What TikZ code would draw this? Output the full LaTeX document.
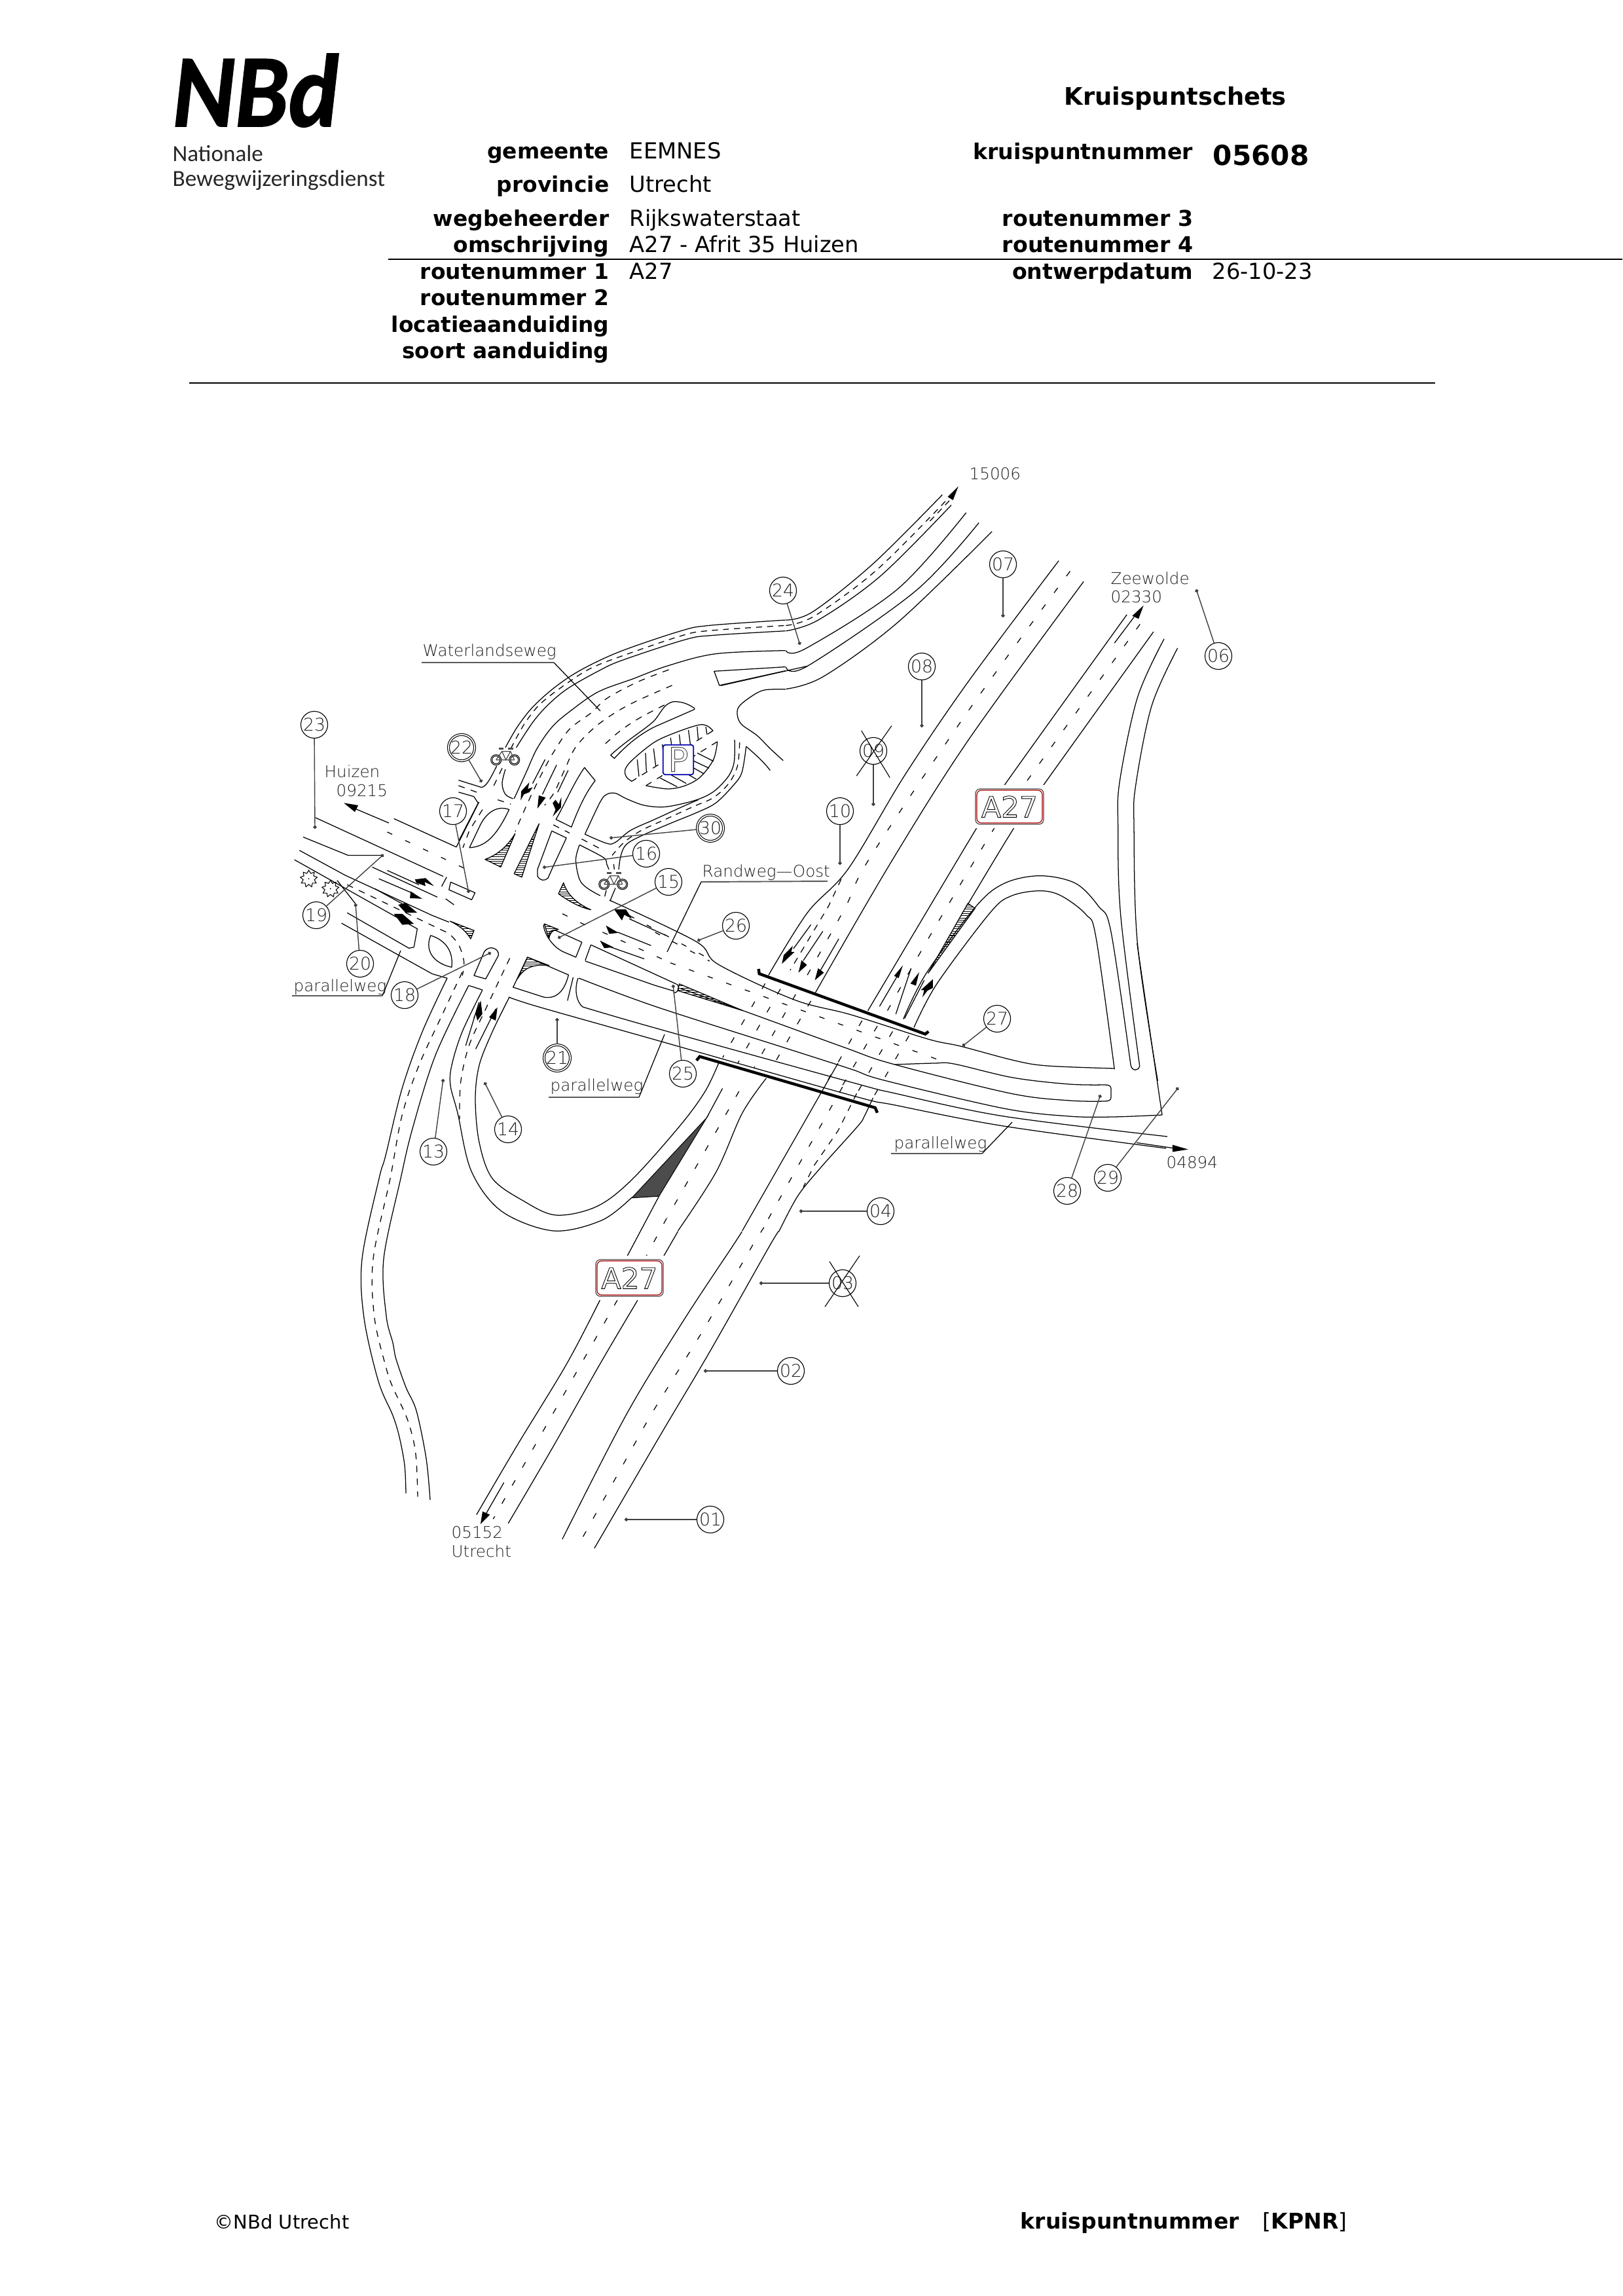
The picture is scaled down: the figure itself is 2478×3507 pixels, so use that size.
\documentclass[tikz,border=0pt]{standalone}
\usepackage{fontspec}
\usetikzlibrary{arrows.meta,shapes.geometric,patterns}
\setmainfont{DejaVu Sans}
\newfontfamily\cadf{DejaVu Sans ExtraLight}
\newfontfamily\logof{Carlito}
\pgfdeclarepatternformonly{finehatch}{\pgfqpoint{-1pt}{-1pt}}{\pgfqpoint{2pt}{2pt}}{\pgfqpoint{0.95pt}{0.95pt}}{\pgfsetlinewidth{0.3pt}\pgfpathmoveto{\pgfqpoint{-1pt}{0pt}}\pgfpathlineto{\pgfqpoint{2pt}{0pt}}\pgfusepath{stroke}}
\newcommand\outltext[1]{\special{pdf:code 1 Tr 0.25 w}#1\special{pdf:code 0 Tr}}
\newcommand\heavytext[1]{\special{pdf:code 2 Tr 0.5 w}#1\special{pdf:code 0 Tr}}
\newcommand\rdp[2][]{\draw[rd,#1] plot[smooth,tension=.55] coordinates {#2};}
\tikzset{
 zone1/.style={shift={(4cm,-10cm)},x=0.005102cm,y=-0.005102cm},
 zone2/.style={shift={(11cm,-6.5cm)},x=0.00542cm,y=-0.006378cm},
 zone3/.style={shift={(6cm,-14cm)},x=0.008292cm,y=-0.006378cm},
 zone4/.style={shift={(6cm,-19cm)},x=0.005102cm,y=-0.003317cm},
 zone6/.style={shift={(7cm,-8.8cm)},x=0.003333cm,y=-0.003333cm},
 zone7/.style={shift={(10cm,-13.8cm)},x=0.003333cm,y=-0.003333cm},
 zone8/.style={shift={(13cm,-14cm)},x=0.003333cm,y=-0.003333cm},
 rd/.style={line width=0.36pt,black,line join=round},
 hwd/.style={rd,dash pattern=on 2.7pt off 6.3pt},
 lcd/.style={rd,dash pattern=on 2.8pt off 2.8pt},
 cyd/.style={rd,dash pattern=on 2.6pt off 2.2pt},
 spd/.style={rd,dash pattern=on 2.4pt off 6.2pt},
 hatchw/.style={rd,pattern=finehatch},
 darkw/.style={line width=0.3pt,fill=black!70},
 lab/.style={inner sep=0pt,anchor=base east,font=\fontsize{9.35}{11}\selectfont\bfseries},
 val/.style={inner sep=0pt,anchor=base west,font=\fontsize{9.6}{11}\selectfont},
 cnum/.style={circle,draw=black,line width=0.32pt,minimum size=0.41cm,inner sep=0pt,text=black!88,font=\cadf\fontsize{7.6}{8}\selectfont},
 cdbl/.style={cnum,double,double distance=0.5pt,minimum size=0.40cm},
 leader/.style={line width=0.4pt,black!75,-{Circle[length=1.5pt]}},
 xline/.style={line width=0.32pt,black},
 cadt/.style={inner sep=0pt,anchor=base west,text=black!88,font=\cadf\fontsize{7}{8}\selectfont},
 uline/.style={line width=0.55pt,black!65},
 lline/.style={line width=0.36pt,black},
 bridgebar/.style={line width=1.25pt,black,line join=miter},
 bikepic/.pic={
  \draw[line width=0.3pt,black] (-14,4) circle (8) (-14,4) circle (6) (14,4) circle (8) (14,4) circle (6);
  \draw[line width=0.35pt,black!70] (-14,4)--(-5,-9)--(8,-9)--(14,4) (-5,-9)--(1,4)--(8,-9) (-14,4)--(1,4)--(14,4);
  \draw[line width=1pt,black!70] (-10,-13)--(-3,-13) (4,-13)--(12,-13);
 },
}
\begin{document}
\begin{tikzpicture}[x=0.01cm,y=-0.01cm]
\useasboundingbox (0,0) rectangle (2478,3507);
\fill[white] (0,0) rectangle (2478,3507);

% ---------- header ----------
\node[inner sep=0pt,anchor=base west,xscale=0.92] (logo) at (263,193) {\logof\fontsize{45}{48}\selectfont\bfseries\itshape\heavytext{NBd}};
\node[inner sep=0pt,anchor=base west,text=black!85] (logoa) at (263,247) {\logof\fontsize{10}{12}\selectfont Nationale};
\node[inner sep=0pt,anchor=base west,text=black!85] (logob) at (263,285) {\logof\fontsize{10}{12}\selectfont Bewegwijzeringsdienst};
\node[lab] (l1) at (931,243) {gemeente};
\node[lab] (l2) at (931,294) {provincie};
\node[lab] (l3) at (931,346) {wegbeheerder};
\node[lab] (l4) at (931,386) {omschrijving};
\node[lab] (l5) at (931,427) {routenummer 1};
\node[lab] (l6) at (931,467) {routenummer 2};
\node[lab] (l7) at (931,508) {locatieaanduiding};
\node[lab] (l8) at (931,548) {soort aanduiding};
\node[val] (v1) at (961,243) {EEMNES};
\node[val] (v2) at (961,294) {Utrecht};
\node[val] (v3) at (961,346) {Rijkswaterstaat};
\node[val] (v4) at (961,386) {A27 - Afrit 35 Huizen};
\node[val] (v5) at (961,427) {A27};
\node[inner sep=0pt,anchor=base west,font=\fontsize{10.5}{12}\selectfont\bfseries] (title) at (1625,161) {Kruispuntschets};
\node[lab,font=\fontsize{9.45}{11}\selectfont\bfseries] (r1) at (1823,244) {kruispuntnummer};
\node[lab,font=\fontsize{9.45}{11}\selectfont\bfseries] (r3) at (1823,346) {routenummer 3};
\node[lab,font=\fontsize{9.45}{11}\selectfont\bfseries] (r4) at (1823,386) {routenummer 4};
\node[lab,font=\fontsize{9.45}{11}\selectfont\bfseries] (r5) at (1823,427) {ontwerpdatum};
\node[inner sep=0pt,anchor=base west,font=\fontsize{12}{14}\selectfont\bfseries] (knr) at (1852,253) {05608};
\node[val] (rv) at (1851,427) {26-10-23};
\draw[line width=0.55pt] (593,396) -- (2478,396);
\draw[line width=0.55pt] (289,585) -- (2192,585);
\node[val,font=\fontsize{8.25}{10}\selectfont] (f1) at (327,3404) {©NBd Utrecht};
\node[inner sep=0pt,anchor=base west,font=\fontsize{9.4}{11}\selectfont\bfseries] (f2) at (1558,3404) {kruispuntnummer};
\node[inner sep=0pt,anchor=base west,font=\fontsize{9.4}{11}\selectfont] (f3) at (1928,3404) {[\textbf{KPNR}]};

% ---------- north part, zone 6 ----------
\begin{scope}[zone6]
\rdp{(215,785) (270,690) (340,600) (440,510) (560,430) (740,345) (1020,250) (1150,225) (1500,200)}
\rdp[cyd]{(240,790) (300,680) (370,590) (470,510) (600,425) (750,365) (1030,270) (1160,248) (1500,225)}
\rdp{(265,785) (340,670) (410,590) (500,515) (640,435) (750,385) (1040,290) (1170,270) (1500,250)}
\rdp{(255,1020) (310,900) (360,790) (430,690) (510,620) (640,530) (800,470) (960,410) (1180,355) (1500,340)}
\rdp[lcd]{(965,428) (820,485) (680,560) (610,625) (510,700) (440,800) (395,880) (340,990) (290,1100) (260,1170)}
\rdp[lcd]{(980,500) (780,590) (640,680) (540,780) (490,880) (440,990) (395,1050)}
\rdp[lcd]{(945,590) (830,650) (740,710) (655,785)}
\draw[rd] (397,840)--(340,950) (450,865)--(385,1000) (503,890)--(455,990);
% sliver island
\draw[rd] (698,820) .. controls (780,745) and (860,700) .. (900,660) .. controls (930,625) and (940,585) .. (985,575) .. controls (1030,572) and (1060,590) .. (1083,605) -- (1083,610) -- (900,690) .. controls (830,725) and (770,775) .. (715,835) -- cycle;
% parking
\rdp{(795,940) (770,920) (765,885) (800,840) (900,760) (1000,715) (1100,682) (1140,685) (1168,708)}
\draw[lcd] (1168,708)--(795,940) (860,960)--(1188,758);
\rdp{(1188,758) (1170,840) (1110,920) (1040,960) (960,975) (860,960)}
\draw[rd] (820,840)--(828,918) (858,810)--(862,895) (895,790)--(905,870) (935,770)--(945,850) (973,740)--(985,830) (1013,725)--(1022,805) (1055,705)--(1065,780) (1095,690)--(1100,750) (1135,690)--(1140,725);
\draw[rd] (1095,810)--(1170,848) (1075,845)--(1150,880) (1045,860)--(1125,905) (1005,880)--(1090,930) (965,905)--(1045,950) (925,925)--(1003,965);
% blocks
\draw[rd] (578,877)--(627,937) .. controls (590,985) and (560,1040) .. (518,1150) -- (447,1115) .. controls (490,1040) and (530,945) .. cycle;
\draw[rd] (428,1168)--(495,1200)--(430,1340)--(410,1385) .. controls (395,1398) and (375,1398) .. (362,1375)--(362,1345)--cycle;
\draw[lcd] (435,1140)--(510,1178);
% ring
\rdp{(580,1183) (650,1035) (680,1000) (720,995) (770,1020) (850,1050) (940,1058) (1040,1040) (1120,1015) (1180,980) (1240,915) (1265,850) (1267,750)}
\rdp[cyd]{(1290,762) (1280,870) (1240,950) (1170,1015) (1080,1055) (960,1110) (840,1165) (760,1220) (705,1280)}
\rdp{(1320,780) (1300,900) (1260,960) (1180,1040) (1090,1085) (980,1130) (840,1190) (770,1230) (745,1280) (735,1345)}
\rdp{(580,1183) (680,1225) (720,1220) (790,1165) (900,1115) (1020,1060) (1100,1025)}
\rdp{(555,1232) (665,1290) (680,1320) (690,1345)}
\draw[lcd] (565,1205)--(670,1260);
\rdp{(555,1232) (538,1300) (555,1390) (590,1430) (650,1465)}
\draw[lcd] (678,1440)--(668,1480) (712,1320)--(715,1345);
\draw[rd] (720,1430)--(695,1490);
\rdp{(1500,518) (1400,522) (1330,560) (1285,600) (1280,640) (1300,680) (1370,730) (1430,790) (1490,845)}
\draw[rd] (1320,780) .. controls (1360,815) and (1400,850) .. (1430,890);
\draw[rd] (1500,415)--(1173,435)--(1197,500)--(1500,433);
% side road
\draw[rd] (0,935)--(105,968) (105,968) .. controls (125,965) and (140,940) .. (175,870);
\draw[rd] (0,990)--(70,1010)--(90,1040)--(0,1215);
\draw[lcd] (0,960)--(110,1000) (180,1025)--(240,1045) (200,880)--(150,985);
\rdp{(215,885) (200,950) (215,1000) (250,1020)}
\draw[rd] (232,1070) .. controls (180,1050) and (130,1080) .. (100,1140) -- (50,1245) .. controls (120,1240) and (170,1200) .. cycle;
\draw[lcd] (110,1070)--(50,1165)--(20,1245);
% arrows
\fill (285,1028)--(288,985)--(325,945)--(318,975)--(340,968)--(325,990)--(300,1000)--cycle;
\fill (362,1065)--(368,1005)--(400,1015)--cycle;
\fill (432,1102)--(445,1070)--(432,1040)--(445,1025)--(460,1045)--(472,1012)--(470,1060)--cycle;
\end{scope}

% ---------- left + south arms, zone 1 ----------
\begin{scope}[zone1]
\draw[rd] (160,487)--(543,663);
\draw[rd] (395,490)--(582,575)--(650,440);
\draw[rd] (123,545)--(258,600)--(360,600);
\draw[rd] (330,635)--(525,725);
\draw[rd] (112,585)--(250,660)--(510,780)--(560,800);
\draw[rd] (97,613)--(465,820)--(455,875)--(440,878)--(255,772);
\draw[rd] (225,675)--(280,745);
\draw[rd] (238,803)--(420,905)--(510,955)--(555,968);
\draw[spd] (375,530)--(630,650);
\draw[rd] (255,450)--(380,503);
\draw[rd] (375,645)--(470,688) (350,670)--(455,715) (338,700)--(420,745) (395,780)--(445,805);
\rdp[lcd]{(255,688) (520,815) (560,835) (590,870) (605,920) (600,960)}
\draw[rd] (565,680)--(638,712)--(628,733)--(560,703)--cycle;
\draw[rd] (553,665)--(538,693) (550,730)--(575,748);
\draw[rd] (505,840) .. controls (540,850) and (575,880) .. (568,935) .. controls (520,925) and (485,890) .. cycle;
\draw[rd] (635,960)--(670,970)--(708,900) .. controls (712,880) and (680,865) .. (665,890)--cycle;
\draw[rd] (620,990)--(660,1003);
\draw[rd] (650,1040)--(610,1170) (700,1060)--(640,1180);
\rdp[lcd]{(742,908) (670,1060) (620,1170) (595,1280) (592,1390)}
% islands of right arm
\draw[rd] (843,808) .. controls (845,835) and (870,875) .. (905,890)--(940,905)--(958,860)--(880,825) .. controls (865,822) and (860,830) .. (860,838);
\draw[rd] (985,868)--(968,915) (985,868)--(1240,985);
\draw[rd] (795,905)--(752,995)--(845,1025) .. controls (880,1030) and (905,1010) .. (918,958)--cycle;
\draw[rd] (932,965)--(915,1035);
\draw[spd] (900,775)--(975,812) (1020,830)--(1222,921) (1100,780)--(1340,910);
\draw[rd] (1100,790)--(1210,840) (1065,830)--(1165,870) (1045,875)--(1145,910);
% trees
\node[star,star points=9,star point ratio=1.5,draw=black,line width=0.3pt,minimum size=0.26cm,inner sep=0pt] (tree1) at (140,670) {};
\node[star,star points=9,star point ratio=1.5,draw=black,line width=0.3pt,minimum size=0.26cm,inner sep=0pt] (tree2) at (205,700) {};
\fill (tree1.center) circle (2) (tree2.center) circle (2);
% arrows
\fill (458,672)--(490,668)--(515,692)--(487,680)--(490,692)--(462,682)--cycle;
\fill (445,708)--(480,730)--(443,728)--cycle;
\fill (408,748)--(430,742)--(465,772)--(430,772)--cycle;
\fill (395,775)--(420,775)--(455,805)--(420,808)--cycle;
\fill (655,1035)--(660,1075)--(645,1095)--(640,1075)--(632,1090)--cycle;
\fill (705,1055)--(700,1095)--(680,1085)--cycle;
\fill (1055,762)--(1090,762)--(1108,790)--(1085,778)--(1078,795)--cycle;
\fill (1030,810)--(1068,832)--(1040,835)--cycle;
\fill (1012,855)--(1052,875)--(1025,878)--cycle;
\fill (245,443)--(288,450)--(278,470)--cycle;
% wedges
\draw[hatchw] (758,535) .. controls (730,580) and (700,600) .. (668,612)--(715,635)--cycle;
\draw[hatchw] (830,505)--(755,655)--(778,665)--cycle;
\draw[hatchw] (903,682)--(888,715) .. controls (915,735) and (950,755) .. (985,763) .. controls (945,745) and (915,720) .. cycle;
\draw[hatchw] (563,797)--(635,825)--(625,850) .. controls (610,825) and (590,810) .. cycle;
\draw[hatchw] (845,805)--(888,822) .. controls (870,822) and (860,835) .. (860,850)--cycle;
\draw[hatchw] (795,905)--(860,930) .. controls (815,925) and (785,935) .. (765,970)--cycle;
\draw[hatchw] (1250,985)--(1245,1005)--(1310,1025)--(1440,1065)--cycle;
\draw[rd] (1240,985) .. controls (1252,988) and (1250,1012) .. (1232,1012);
\end{scope}

% ---------- long roads in page pixels ----------
\rdp{(683,1494) (645,1576) (614,1663) (589,1765) (579,1800) (553,1923) (556,2013) (578,2110) (600,2162) (610,2195) (618,2238) (620,2281)}
\rdp{(716,1505) (665,1612) (630,1724) (612,1800) (586,1923) (590,2010) (600,2051) (605,2076) (620,2119) (636,2155) (651,2228) (657,2291)}
\rdp[lcd]{(706,1485) (675,1551) (640,1627) (614,1704) (596,1800) (570,1923) (572,2013) (590,2090) (600,2119) (620,2162) (631,2198) (636,2232) (638,2286)}
\rdp{(737,1512) (706,1576) (690,1627) (688,1658) (699,1700) (720,1789) (766,1850) (845,1880) (919,1864) (965,1829)}
\rdp{(778,1523) (752,1576) (732,1627) (726,1679) (732,1745) (752,1800) (799,1834) (849,1856) (911,1843) (965,1802) (1039,1719) (1077,1667) (1098,1623)}
% right arm: north edge and long lines
\rdp{(931,1375) (1063,1438) (1097,1473) (1213,1527) (1300,1550) (1417,1587) (1467,1598) (1550,1620) (1600,1628) (1702,1632)}
\draw[rd] (894,1468)--(1000,1505)--(1030,1514);
\rdp{(1040,1510) (1133,1543) (1290,1600) (1363,1625) (1543,1670) (1633,1681) (1688,1682)}
\draw[rd] (1688,1682) .. controls (1694,1682) and (1697,1680) .. (1697,1676) -- (1697,1663) .. controls (1697,1659) and (1694,1657) .. (1688,1657);
\rdp{(1367,1626) (1427,1624) (1457,1625) (1547,1646) (1633,1656) (1688,1657)}
\rdp{(884,1494) (1000,1537) (1200,1601) (1300,1633) (1350,1650) (1533,1693) (1633,1705) (1700,1706) (1775,1703)}
\rdp{(890,1538) (1000,1570) (1300,1653) (1367,1670) (1533,1705) (1783,1736)}
\rdp{(777,1523) (823,1538) (1000,1588) (1300,1673) (1367,1688) (1533,1720) (1781,1754)}
\draw[rd] (883,1494) .. controls (877,1510) and (880,1530) .. (890,1538);

% ---------- zone 2: north-east ----------
\begin{scope}[zone2]
\rdp{(184,465) (260,445) (430,330) (625,165)}
\rdp[cyd]{(184,478) (265,455) (440,345) (640,175)}
\rdp{(184,491) (275,465) (450,360) (650,190)}
\rdp{(184,538) (240,533) (500,390) (692,208)}
\rdp{(184,577) (245,575) (550,395) (728,232)}
\draw[rd] (0,622)--(245,575);
\rdp{(184,630) (290,600) (500,470) (765,253)}
\draw[cyd] (590,228)--(655,170);
\fill (670,145)--(640,170)--(655,178)--cycle;
% west carriageway
\rdp{(953,323) (700,610) (520,835) (360,1060) (245,1165) (135,1315)}
\rdp{(1023,373) (700,750) (480,1045) (265,1360)}
\rdp[hwd]{(985,348) (700,680) (420,1035) (350,1155) (234,1330)}
\draw[lcd] (340,1085)--(304,1150)--(196,1303);
% east carriageway
\rdp{(1145,452) (800,860) (720,965) (415,1400)}
\rdp{(1220,493) (910,860) (825,965) (697,1145)}
\rdp[hwd]{(1182,475) (855,860) (770,965) (621,1176) (560,1265) (470,1400)}
\draw[rd] (1110,520)--(1165,458);
\fill (1192,430)--(1160,455)--(1178,462)--cycle;
% ramp
\rdp{(1110,1540) (1058,1225) (1030,1170) (960,1125) (900,1113) (820,1125) (760,1165) (610,1335) (545,1440)}
\rdp{(1156,1531) (1100,1210) (1065,1150) (1000,1095) (900,1077) (800,1095) (720,1150) (580,1310) (515,1420)}
\draw[rd] (1156,1531)..controls (1160,1545) and (1178,1545) .. (1181,1532);
\rdp{(1181,1532) (1128,1176) (1120,960) (1125,850) (1175,650) (1250,510)}
\rdp{(1288,532) (1215,670) (1170,860) (1165,960) (1175,1240) (1232,1568)}
\draw[hatchw] (697,1143)--(717,1155)--(585,1310)--cycle;
\end{scope}

% ---------- zone 7: bridge ----------
\begin{scope}[zone7]
\draw[rd] (715,95)--(635,205) (770,125)--(680,260) (843,160)--(750,320);
\draw[rd] (1115,325)--(1030,470) (1175,295)--(1105,505) (1235,350)--(1145,525);
\draw[hwd] (950,535)--(775,840) (1020,560)--(850,850) (1090,585)--(920,880) (1165,605)--(1000,890);
\draw[hwd] (505,365)--(310,705) (575,390)--(380,730) (645,415)--(455,750) (715,445)--(525,770);
\draw[rd] (840,730)--(760,870)--(400,1500);
\rdp{(1000,890) (960,975) (930,1020) (760,1210) (655,1340) (570,1500)}
\draw[hwd] (860,840)--(500,1480);
\draw[lcd] (925,870)--(840,1040)--(730,1200)--(680,1300);
\rdp{(510,800) (400,960) (280,1230) (105,1500)}
\draw[hwd] (385,860)--(55,1440);
\draw[spd] (0,130)--(250,262) (70,270)--(1320,722);
\draw[bridgebar] (475,298)--(478,320)--(1240,597)--(1255,585);
\draw[bridgebar] (190,718)--(205,700)--(1010,935)--(1020,958);
\fill (582,275)--(590,235)--(632,192)--(625,220)--(640,220)--(610,248)--cycle;
\fill (658,315)--(672,258)--(697,280)--cycle;
\fill (733,350)--(748,295)--(775,315)--cycle;
\fill (1137,282)--(1097,330)--(1118,340)--cycle;
\fill (1212,313)--(1172,365)--(1197,375)--cycle;
\fill (1227,428)--(1235,395)--(1220,395)--(1275,345)--(1275,385)--(1250,398)--cycle;
\end{scope}

% ---------- zone 3 ----------
\begin{scope}[zone3]
\draw[rd] (525,752)--(497,815);
\draw[rd] (490,668)--(430,815);
\draw[hwd] (504,721)--(465,815);
\draw[rd] (607,410)--(578,480);
\draw[darkw] (578,480)--(440,672)--(490,668)--cycle;
\draw[rd] (1370,540)--(1438,553);
\fill (1465,556)--(1436,545)--(1436,562)--cycle;
\end{scope}

% ---------- zone 4: south end ----------
\begin{scope}[zone4]
\rdp{(620,255) (520,550) (370,930) (250,1245)}
\rdp{(733,255) (620,550) (480,930) (345,1285)}
\draw[hwd] (672,255)--(300,1265);
\draw[rd] (332,1097)--(275,1250);
\fill (262,1288)--(268,1230)--(290,1245)--cycle;
\rdp{(1045,-60) (1020,0) (870,350) (700,780) (507,1358)}
\rdp{(1156,-60) (1130,0) (950,490) (800,880) (603,1400)}
\draw[hwd] (1111,-80)--(1078,0)--(935,380)--(770,790)--(557,1380);
\end{scope}

% ---------- zone 8 close-up: strip end line ----------
\begin{scope}[zone8]
\draw[rd] (1425,908)--(1310,120);
\end{scope}

% ---------- bikes ----------
\pic at (771.7,1156.7) {bikepic};
\pic at (936.7,1346.7) {bikepic};

% ---------- parking sign ----------
\draw[line width=0.5pt,draw=blue!70!black,fill=white,rounded corners=1pt] (1012.7,1137.7) rectangle (1059.3,1183.3);
\node[inner sep=0pt,text=black!75,font=\fontsize{14.5}{16}\selectfont] (psign) at (1036,1160) {\outltext{P}};

% ---------- A27 signs ----------
\fill[white] (1484,1199) rectangle (1600,1265);
\fill[white] (904,1918) rectangle (1019,1986);
\node[draw=black!70,line width=0.35pt,rounded corners=2pt,minimum width=1.04cm,minimum height=0.54cm,inner sep=0pt] (signa) at (1542,1232) {};
\node[draw=red!70!black,line width=0.35pt,rounded corners=2pt,minimum width=1.0cm,minimum height=0.50cm,inner sep=0pt,font=\fontsize{12.5}{14}\selectfont] (signat) at (1542,1232) {\outltext{A27}};
\node[draw=black!70,line width=0.35pt,rounded corners=2pt,minimum width=1.03cm,minimum height=0.56cm,inner sep=0pt] (signb) at (961.5,1952) {};
\node[draw=red!70!black,line width=0.35pt,rounded corners=2pt,minimum width=0.99cm,minimum height=0.52cm,inner sep=0pt,font=\fontsize{12.5}{14}\selectfont] (signbt) at (961.5,1952) {\outltext{A27}};

% ---------- CAD texts ----------
\node[cadt] (thz) at (495,1187) {Huizen};
\node[cadt] (t09) at (513,1216) {09215};
\node[cadt] (t15) at (1480,733) {15006};
\node[cadt] (tze) at (1696,893) {Zeewolde};
\node[cadt] (t02) at (1696,921) {02330};
\node[cadt] (t05) at (689,2349) {05152};
\node[cadt] (tut) at (689,2378) {Utrecht};
\node[cadt] (t04) at (1781,1784) {04894};
\node[cadt] (twl) at (645,1003) {Waterlandseweg};
\node[cadt] (trw) at (1072,1339) {Randweg—Oost};
\node[cadt] (tp1) at (448,1514) {parallelweg};
\node[cadt] (tp2) at (840,1666) {parallelweg};
\node[cadt] (tp3) at (1365,1754) {parallelweg};
\coordinate (uw0) at (644,1012); \coordinate (uw1) at (846,1012); \coordinate (uw2) at (917,1086);
\draw[uline] (uw0)--(uw1); \draw[lline] (uw1)--(uw2);
\coordinate (ur0) at (1071,1347); \coordinate (ur1) at (1264,1346); \coordinate (ur2) at (1019,1454);
\draw[uline] (ur0)--(ur1); \draw[lline] (ur0)--(ur2);
\coordinate (up0) at (446,1521); \coordinate (up1) at (584,1521); \coordinate (up2) at (612,1452);
\draw[uline] (up0)--(up1); \draw[lline] (up1)--(up2);
\coordinate (uq0) at (838,1676); \coordinate (uq1) at (976,1676); \coordinate (uq2) at (1015,1580);
\draw[uline] (uq0)--(uq1); \draw[lline] (uq1)--(uq2);
\coordinate (us0) at (1361,1762); \coordinate (us1) at (1500,1762); \coordinate (us2) at (1546,1714);
\draw[uline] (us0)--(us1); \draw[lline] (us1)--(us2);

% ---------- numbered callouts ----------
\node[cnum] (c01) at (1085,2321) {01}; \coordinate (t01) at (954,2321);
\node[cnum] (c02) at (1208,2094) {02}; \coordinate (t02p) at (1075,2094);
\node[cnum] (c03) at (1287,1960) {03}; \coordinate (t03) at (1160,1960);
\node[cnum] (c04) at (1345,1850) {04}; \coordinate (t04p) at (1221,1850);
\node[cnum] (c06) at (1861,1002) {06}; \coordinate (t06) at (1827,900);
\node[cnum] (c07) at (1532,862) {07}; \coordinate (t07) at (1532,943);
\node[cnum] (c08) at (1408,1018) {08}; \coordinate (t08) at (1408,1111);
\node[cnum] (c09) at (1334,1147) {09}; \coordinate (t09p) at (1334,1231);
\node[cnum] (c10) at (1283,1239) {10}; \coordinate (t10) at (1283,1321);
\node[cnum] (c13) at (662,1759) {13}; \coordinate (t13) at (677,1648);
\node[cnum] (c14) at (776,1725) {14}; \coordinate (t14) at (740,1653);
\node[cnum] (c15) at (1021,1347) {15}; \coordinate (t15p) at (852,1433);
\node[cnum] (c16) at (987,1304) {16}; \coordinate (t16) at (829,1325);
\node[cnum] (c17) at (692,1239) {17}; \coordinate (t17) at (716,1364);
\node[cnum] (c18) at (618,1520) {18}; \coordinate (t18) at (750,1455);
\node[cnum] (c19) at (483,1398) {19}; \coordinate (t19) at (586,1305);
\node[cnum] (c20) at (550,1472) {20}; \coordinate (t20) at (543,1380);
\node[cdbl] (c21) at (851,1616) {21}; \coordinate (t21) at (851,1555);
\node[cdbl] (c22) at (705,1142) {22}; \coordinate (t22) at (736,1195);
\node[cnum] (c23) at (480,1107) {23}; \coordinate (t23) at (481,1266);
\node[cnum] (c24) at (1196,902) {24}; \coordinate (t24) at (1222,985);
\node[cnum] (c25) at (1043,1640) {25}; \coordinate (t25) at (1028,1504);
\node[cnum] (c26) at (1124,1414) {26}; \coordinate (t26) at (1065,1437);
\node[cnum] (c27) at (1523,1556) {27}; \coordinate (t27) at (1470,1598);
\node[cnum] (c28) at (1630,1819) {28}; \coordinate (t28) at (1681,1672);
\node[cnum] (c29) at (1692,1799) {29}; \coordinate (t29) at (1800,1661);
\node[cdbl] (c30) at (1085,1265) {30}; \coordinate (t30) at (931,1280);
\foreach \k/\t in {c01/t01,c02/t02p,c03/t03,c04/t04p,c06/t06,c07/t07,c08/t08,c09/t09p,c10/t10,c13/t13,c14/t14,c15/t15p,c16/t16,c17/t17,c18/t18,c19/t19,c20/t20,c21/t21,c22/t22,c23/t23,c24/t24,c25/t25,c26/t26,c27/t27,c28/t28,c29/t29,c30/t30}
  \draw[leader] (\k) -- (\t);
\draw[xline] (1267,1927)--(1311,1996) (1313,1918)--(1260,1996);
\begin{scope}[zone2]
\draw[xline] (397,730)--(477,842) (482,718)--(383,838);
\end{scope}
\end{tikzpicture}
\end{document}
